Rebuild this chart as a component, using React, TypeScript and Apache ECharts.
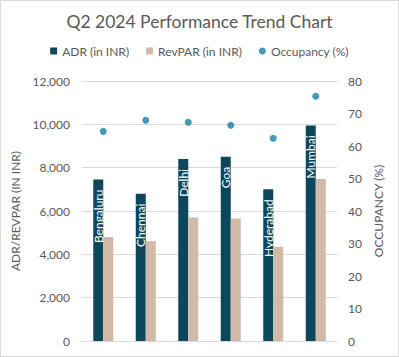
import React, { useEffect, useRef } from "react";
import * as echarts from "echarts";

const cities = ["Bengaluru", "Chennai", "Delhi", "Goa", "Hyderabad", "Mumbai"];
const adr = [7450, 6800, 8400, 8500, 7000, 9950];
const revpar = [4800, 4600, 5700, 5650, 4350, 7480];
const occupancy = [64.5, 67.9, 67.3, 66.4, 62.4, 75.3];

const FONT = "Lato, 'Open Sans', sans-serif";
const GREY = "#595959";

export default function App() {
  const ref = useRef<HTMLDivElement>(null);
  useEffect(() => {
    const chart = echarts.init(ref.current!, null, { renderer: "svg" });
    chart.setOption({
      animation: false,
      backgroundColor: "#fff",
      textStyle: { fontFamily: FONT },
      title: {
        text: "Q2 2024 Performance Trend Chart",
        left: "center",
        top: 7,
        textStyle: { fontSize: 17.5, fontWeight: "normal", color: GREY, fontFamily: FONT },
      },
      legend: {
        top: 40,
        left: "center",
        itemWidth: 7,
        itemHeight: 7,
        itemGap: 17,
        textStyle: { fontSize: 12, color: GREY, fontFamily: FONT },
        data: [
          { name: "ADR (in INR)", icon: "rect" },
          { name: "RevPAR (in INR)", icon: "rect" },
          { name: "Occupancy (%)", icon: "circle" },
        ],
      },
      graphic: [
        {
          type: "rect",
          shape: { x: 0.5, y: 0.5, width: 398, height: 356 },
          style: { fill: "none", stroke: "#d9d9d9", lineWidth: 1 },
          silent: true,
        },
      ],
      grid: { left: 82, right: 62, top: 81, bottom: 16 },
      xAxis: {
        type: "category",
        data: cities,
        axisLine: { show: true, lineStyle: { color: "#d9d9d9" } },
        axisTick: { show: false },
        axisLabel: { show: false },
      },
      yAxis: [
        {
          type: "value",
          min: 0,
          max: 12000,
          interval: 2000,
          name: "ADR/REVPAR (IN INR)",
          nameLocation: "middle",
          nameGap: 55,
          nameTextStyle: { color: GREY, fontSize: 12, fontFamily: FONT },
          axisLine: { show: false },
          axisTick: { show: false },
          axisLabel: {
            color: GREY,
            fontSize: 12,
            margin: 12,
            fontFamily: FONT,
            formatter: (v: number) => v.toLocaleString("en-US"),
          },
          splitLine: { lineStyle: { color: "#d9d9d9" } },
        },
        {
          type: "value",
          min: 0,
          max: 80,
          interval: 10,
          name: "OCCUPANCY (%)",
          nameLocation: "middle",
          nameGap: 27,
          nameRotate: 90,
          nameTextStyle: { color: GREY, fontSize: 12, fontFamily: FONT },
          axisLine: { show: false },
          axisTick: { show: false },
          axisLabel: { color: GREY, fontSize: 12, margin: 11, fontFamily: FONT },
          splitLine: { show: false },
        },
      ],
      series: [
        {
          name: "ADR (in INR)",
          type: "bar",
          data: adr,
          barWidth: 10,
          barGap: "0%",
          itemStyle: { color: "#0c475d" },
          label: {
            show: true,
            position: "insideTop",
            rotate: 90,
            align: "right",
            verticalAlign: "middle",
            distance: 10,
            color: "#fff",
            fontSize: 12,
            fontFamily: FONT,
            formatter: (p: any) => p.name,
          },
        },
        {
          name: "RevPAR (in INR)",
          type: "bar",
          data: revpar,
          barWidth: 10,
          itemStyle: { color: "#d2b9a8" },
        },
        {
          name: "Occupancy (%)",
          type: "scatter",
          yAxisIndex: 1,
          data: occupancy,
          symbolSize: 7,
          itemStyle: { color: "#137fa6" },
        },
      ],
    });
    return () => chart.dispose();
  }, []);
  return (
    <div
      ref={ref}
      style={{ position: "absolute", left: 0, top: 0, width: 399, height: 357 }}
    />
  );
}
